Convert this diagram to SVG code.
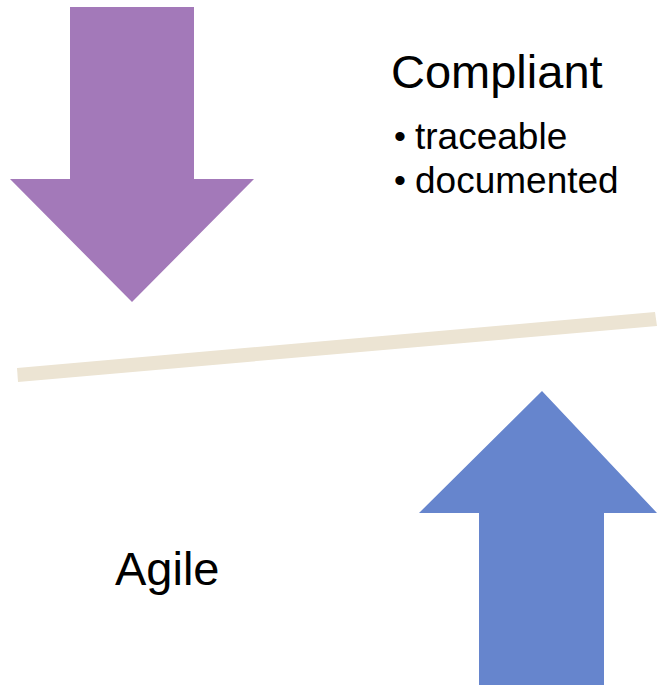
<svg xmlns="http://www.w3.org/2000/svg" width="657" height="685" viewBox="0 0 657 685">
  <style>
    .label { font-family: "Liberation Sans", Arial, sans-serif; fill: #000000; }
    .title { font-size: 47px; }
    .item { font-size: 37px; }
    .dot { font-size: 34px; }
  </style>
  <rect width="657" height="685" fill="#ffffff"/>
  <!-- balance beam -->
  <g id="beam">
    <polygon points="17,368 655,312 657,326 18,382" fill="#ECE4D3"/>
  </g>
  <!-- downward force -->
  <g id="arrow-down">
    <polygon points="70,7 194,7 194,179 254,179 132,302 10,179 70,179" fill="#A379B9"/>
  </g>
  <!-- upward force -->
  <g id="arrow-up">
    <polygon points="542,391 657,513 604,513 604,685 479,685 479,513 419,513" fill="#6685CD"/>
  </g>
  <g id="compliant">
    <text class="label title" x="391" y="88">Compliant</text>
    <text class="label dot" x="394" y="148">•</text>
    <text class="label item" x="415" y="149">traceable</text>
    <text class="label dot" x="394" y="192">•</text>
    <text class="label item" x="415" y="193">documented</text>
  </g>
  <g id="agile">
    <text class="label title" x="115" y="585">Agile</text>
  </g>
</svg>
